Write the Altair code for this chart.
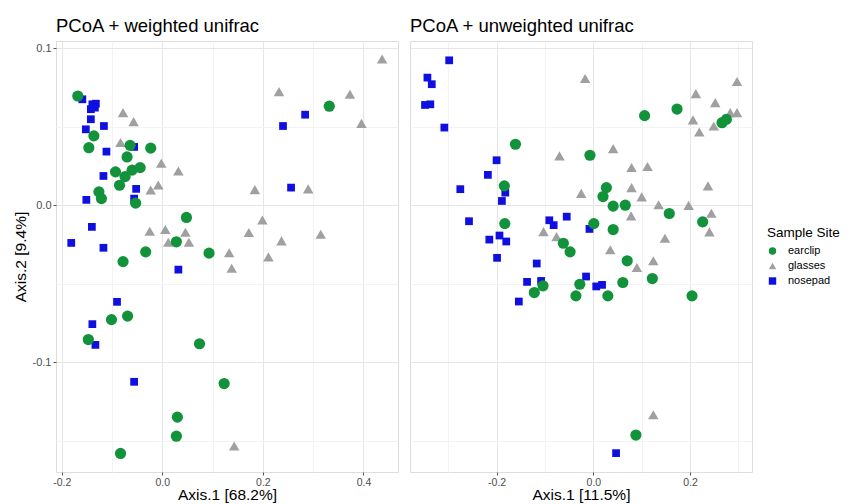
import altair as alt
import pandas as pd

# ---------------- data ----------------
sites = ["earclip", "glasses", "nosepad"]
site_colors = ["#12923a", "#a0a0a0", "#0f0fe0"]
site_shapes = ["circle", "triangle-up", "square"]
site_sizes = {"earclip": 125, "glasses": 110, "nosepad": 60}

# weighted unifrac (left panel)
w_earclip_x = [-0.168, -0.136, -0.146, -0.064, -0.023, -0.070, -0.093, -0.074, -0.060, -0.044,
               -0.085, -0.126, -0.121, -0.053, 0.048, 0.028, -0.033, -0.078, 0.093, 0.332,
               -0.101, -0.069, -0.147, 0.074, 0.123, 0.030, 0.028, -0.083]
w_earclip_y = [0.0695, 0.0441, 0.0366, 0.0381, 0.0363, 0.0307, 0.0212, 0.0182, 0.0223, 0.0239,
               0.0127, 0.0085, 0.0042, 0.0013, -0.0078, -0.0233, -0.0297, -0.0359, -0.0305, 0.0630,
               -0.0728, -0.0706, -0.0855, -0.0882, -0.1135, -0.1349, -0.1470, -0.1580]
w_glasses_x = [0.437, 0.232, 0.373, 0.396, -0.078, -0.057, -0.083, -0.002, 0.032, -0.008,
               -0.023, 0.184, 0.290, 0.199, -0.025, 0.006, 0.046, 0.172, 0.315, 0.012,
               0.053, 0.237, 0.133, 0.211, 0.138, 0.143]
w_glasses_y = [0.0930, 0.0723, 0.0706, 0.0521, 0.0589, 0.0532, 0.0399, 0.0267, 0.0218, 0.0129,
               0.0097, 0.0099, 0.0104, -0.0094, -0.0166, -0.0155, -0.0172, -0.0174, -0.0185, -0.0236,
               -0.0236, -0.0227, -0.0303, -0.0329, -0.0401, -0.1533]
w_nosepad_x = [-0.159, -0.139, -0.132, -0.142, -0.134, -0.142, -0.152, -0.116, -0.111, -0.056,
               -0.117, -0.052, -0.151, -0.056, -0.140, -0.181, -0.117, 0.032, 0.240, 0.284,
               0.256, -0.090, -0.139, -0.133, -0.056]
w_nosepad_y = [0.0674, 0.0642, 0.0646, 0.0611, 0.0621, 0.0547, 0.0483, 0.0504, 0.0341, 0.0371,
               0.0186, 0.0104, 0.0034, 0.0042, -0.0138, -0.0240, -0.0271, -0.0410, 0.0504, 0.0576,
               0.0112, -0.0615, -0.0757, -0.0889, -0.1124]

# unweighted unifrac (right panel)
u_earclip_x = [-0.161, -0.007, 0.106, 0.173, 0.266, 0.275, -0.184, -0.183, 0.027, 0.020,
               0.041, 0.066, 0.157, 0.226, 0.001, 0.041, -0.062, -0.048, 0.070, -0.104,
               -0.122, -0.028, -0.036, 0.030, 0.061, 0.122, 0.204, 0.088]
u_earclip_y = [0.0388, 0.0318, 0.0570, 0.0612, 0.0525, 0.0546, 0.0123, -0.0117, 0.0112, 0.0055,
               -0.0006, 0.0000, -0.0053, -0.0106, -0.0117, -0.0155, -0.0242, -0.0297, -0.0354, -0.0513,
               -0.0556, -0.0503, -0.0577, -0.0577, -0.0492, -0.0467, -0.0577, -0.1463]
u_glasses_x = [-0.017, 0.297, 0.212, 0.252, 0.206, 0.219, 0.249, 0.283, 0.297, -0.070,
               0.041, 0.079, 0.112, 0.079, 0.100, -0.025, 0.237, 0.135, 0.197, 0.244,
               0.078, 0.240, 0.148, -0.103, -0.076, 0.035, 0.124, 0.090, 0.124]
u_glasses_y = [0.0806, 0.0787, 0.0710, 0.0653, 0.0543, 0.0466, 0.0504, 0.0589, 0.0589, 0.0314,
               0.0360, 0.0240, 0.0246, 0.0112, 0.0053, 0.0075, 0.0123, 0.0003, -0.0001, -0.0051,
               -0.0068, -0.0170, -0.0210, -0.0168, -0.0200, -0.0284, -0.0354, -0.0397, -0.1334]
u_nosepad_x = [-0.298, -0.343, -0.334, -0.348, -0.337, -0.308, -0.200, -0.218, -0.275, -0.182,
               -0.189, -0.257, -0.215, -0.194, -0.180, -0.199, -0.117, -0.091, -0.082, -0.055,
               -0.008, -0.137, -0.108, -0.154, -0.015, 0.006, 0.018, 0.047]
u_nosepad_y = [0.0922, 0.0812, 0.0770, 0.0638, 0.0642, 0.0494, 0.0286, 0.0193, 0.0102, 0.0080,
               0.0027, -0.0102, -0.0219, -0.0193, -0.0231, -0.0335, -0.0371, -0.0096, -0.0127, -0.0073,
               -0.0151, -0.0488, -0.0482, -0.0613, -0.0454, -0.0517, -0.0507, -0.1578]

left_title = "PCoA + weighted unifrac"
right_title = "PCoA + unweighted unifrac"
left_xtitle = "Axis.1 [68.2%]"
right_xtitle = "Axis.1 [11.5%]"
ytitle = "Axis.2 [9.4%]"
legend_title = "Sample Site"

x_ticks_left = [-0.2, -0.1, 0.0, 0.1, 0.2, 0.3, 0.4]
x_ticks_right = [-0.3, -0.2, -0.1, 0.0, 0.1, 0.2, 0.3]
y_ticks = [-0.15, -0.1, -0.05, 0.0, 0.05, 0.1]


def build(series):
    rows = []
    for site in sites:
        xs, ys = series[site]
        for a, b in zip(xs, ys):
            rows.append({"x": a, "y": b, "site": site})
    return pd.DataFrame(rows)


df_w = build({"earclip": (w_earclip_x, w_earclip_y),
              "glasses": (w_glasses_x, w_glasses_y),
              "nosepad": (w_nosepad_x, w_nosepad_y)})
df_u = build({"earclip": (u_earclip_x, u_earclip_y),
              "glasses": (u_glasses_x, u_glasses_y),
              "nosepad": (u_nosepad_x, u_nosepad_y)})

FONT = "Liberation Sans"
MAJOR_X = "abs(round(datum.value*10)) % 2 == 0"
MAJOR_Y = "abs(round(datum.value*20)) % 2 == 0"
LABEL = "(datum.value < -0.0001 ? '-' : '') + format(abs(datum.value), '.1f')"


def grid_color(test):
    return {"condition": {"test": test, "value": "#e6e6e6"}, "value": "#f3f3f3"}


def tick_op(test):
    return {"condition": {"test": test, "value": 1}, "value": 0}


color_enc = alt.Color("site:N", scale=alt.Scale(domain=sites, range=site_colors),
                      legend=alt.Legend(title=legend_title, orient="none", legendX=711, legendY=185,
                                        symbolSize=55, labelFontSize=11, titleFontSize=13.5,
                                        titleFont=FONT, labelFont=FONT, titleFontWeight="normal",
                                        titleColor="black", labelColor="black", rowPadding=3,
                                        titlePadding=6, symbolStrokeWidth=0, labelOffset=10))
shape_enc = alt.Shape("site:N", scale=alt.Scale(domain=sites, range=site_shapes))


def panel(df, xdom, xticks, title, xtitle, show_y):
    x_axis = alt.Axis(values=xticks, labelExpr=f"{MAJOR_X} ? {LABEL} : ''", title=xtitle,
                      gridColor=grid_color(MAJOR_X), tickOpacity=tick_op(MAJOR_X),
                      domain=False, tickSize=3, tickColor="#555555", labelColor="#4d4d4d",
                      labelFontSize=10.5, labelFont=FONT, titleFont=FONT, titleFontSize=15.5,
                      titleFontWeight="normal", titleColor="black", labelPadding=2, titlePadding=0,
                      labelFlush=False)
    if show_y:
        y_axis = alt.Axis(values=y_ticks, labelExpr=f"{MAJOR_Y} ? {LABEL} : ''", title=ytitle,
                          gridColor=grid_color(MAJOR_Y), tickOpacity=tick_op(MAJOR_Y),
                          domain=False, tickSize=3, tickColor="#555555", labelColor="#4d4d4d",
                          labelFontSize=11, labelFont=FONT, titleFont=FONT, titleFontSize=15.5,
                          titleFontWeight="normal", titleColor="black", labelPadding=2,
                          titlePadding=4, labelFlush=False)
    else:
        y_axis = alt.Axis(values=y_ticks, labels=False, ticks=False, title=None, domain=False,
                          gridColor=grid_color(MAJOR_Y))
    base = alt.Chart(df).encode(
        x=alt.X("x:Q", scale=alt.Scale(domain=xdom, nice=False, zero=False), axis=x_axis),
        y=alt.Y("y:Q", scale=alt.Scale(domain=[-0.1698, 0.1045], nice=False, zero=False), axis=y_axis),
        color=color_enc, shape=shape_enc,
    )
    layers = []
    # draw order: glasses, nosepad, earclip (earclip on top)
    for site in ["glasses", "nosepad", "earclip"]:
        layers.append(base.transform_filter(alt.datum.site == site).mark_point(
            filled=True, opacity=1, strokeWidth=0, size=site_sizes[site]))
    return alt.layer(*layers).properties(
        width=342, height=431,
        title=alt.TitleParams(title, anchor="start", frame="group", fontSize=18.5, font=FONT,
                              fontWeight="normal", color="black", offset=6),
    )


left = panel(df_w, [-0.2113, 0.4686], x_ticks_left, left_title, left_xtitle, True)
right = panel(df_u, [-0.379, 0.328], x_ticks_right, right_title, right_xtitle, False)

chart = alt.hconcat(left, right, spacing=10).resolve_scale(
    x="independent", y="shared", color="shared", shape="shared"
).properties(padding={"left": 4, "top": 8, "right": 0, "bottom": 0}).configure_view(
    stroke="#808080", strokeWidth=1
).configure(background="white")

chart.save("out.html", embed_options={"renderer": "svg", "actions": False})
